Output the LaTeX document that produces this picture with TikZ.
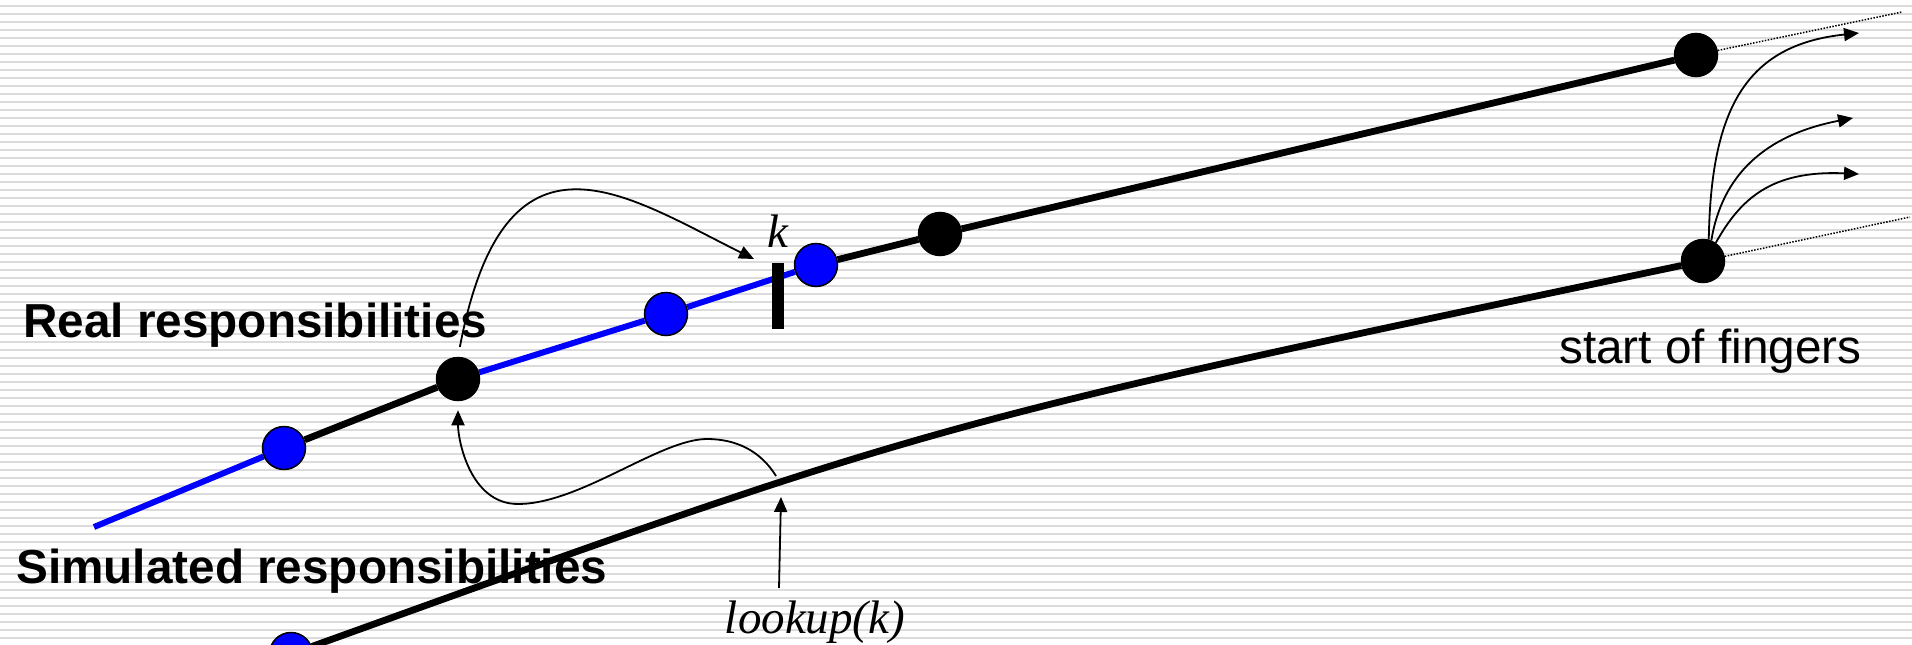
\documentclass[tikz,border=0pt]{standalone}
\usepackage{fontspec}
\setmainfont{Liberation Sans}
\newfontfamily\tmsfont{Liberation Serif}
\usetikzlibrary{arrows.meta,backgrounds}
\tikzset{
  rnd/.style={circle,draw=black,fill=black,minimum size=43pt,inner sep=0pt,line width=1.5pt},
  snd/.style={circle,draw=black,fill=blue,minimum size=43pt,inner sep=0pt,line width=1.5pt},
  seg/.style={draw=black,line width=6.8pt},
  segb/.style={draw=blue,line width=6pt},
  ptr/.style={-{Triangle[length=15pt,width=13pt]},line width=1.8pt,draw=black},
  fng/.style={draw=black,line width=1.5pt,dash pattern=on 1.5pt off 1.5pt},
  tickbar/.style={rectangle,fill=black,minimum width=12pt,minimum height=66pt,inner sep=0pt},
  stripe/.style={draw=black!14,line width=1.5pt},
  lbl/.style={font=\fontsize{47.7pt}{57pt}\selectfont,inner sep=0pt,anchor=base west},
  lblb/.style={lbl,font=\fontsize{47.7pt}{57pt}\selectfont\bfseries},
  lbli/.style={font=\fontsize{47pt}{56pt}\selectfont\tmsfont\itshape,inner sep=0pt,anchor=base},
}
\begin{document}
\begin{tikzpicture}[x=1pt,y=-1pt]
\useasboundingbox (0,0) rectangle (1912,645);
% real responsibilities: the upper chain
\coordinate (bstart) at (94,527);
\node[snd] (b1) at (284,448) {};
\node[rnd] (r1) at (458,379) {};
\node[snd] (b2) at (666,314) {};
\node[snd] (b3) at (816,265) {};
\node[rnd] (r2) at (940,234) {};
\node[rnd] (r3) at (1696,55) {};
\node[tickbar] (kbar) at (778,296) {};
% simulated responsibilities: the lower line
\node[snd] (s0) at (291,654) {};
\node[rnd] (s1) at (1703,261) {};
% labels
\node[lblb] (real) at (23,337) {Real responsibilities};
\node[lblb] (simu) at (16,583) {Simulated responsibilities};
\node[lbl] (fing) at (1559,363) {start of fingers};
\node[lbli] (klbl) at (778,247) {k};
\node[lbli] (lklbl) at (815,633) {lookup(k)};
% free ends
\coordinate (kend) at (754,259);
\coordinate (lkS) at (776,476);
\coordinate (lkB) at (779,588);
\coordinate (lkT) at (781,497);
\coordinate (d1) at (1902,12);
\coordinate (d2) at (1910,217);
\coordinate (f1) at (1859,33);
\coordinate (f2) at (1853,118);
\coordinate (f3) at (1859,174);
\begin{scope}[on background layer]
  \fill[white] (0,0) rectangle (1912,645);
  \foreach \y in {6,14,...,638}
    \draw[stripe] (0,\y) -- (1912,\y);
  \draw[segb] (bstart) -- (b1);
  \draw[seg] (b1) -- (r1);
  \draw[segb] (r1) -- (b2) -- (b3);
  \draw[seg] (b3) -- (r2) -- (r3);
  \draw[seg] (s0) .. controls (932,423) .. (s1);
\end{scope}
\draw[fng] (r3) -- (d1);
\draw[fng] (s1) -- (d2);
% the fingers
\draw[ptr] (s1.75) .. controls (1711,110) and (1745,45) .. (f1);
\draw[ptr] (s1.68) .. controls (1722,175) and (1765,135) .. (f2);
\draw[ptr] (s1.55) .. controls (1740,200) and (1770,170) .. (f3);
% the lookup
\draw[ptr,shorten <=10pt] (r1.north) .. controls (505,110) and (625,195) .. (kend);
\draw[ptr,shorten >=9pt] (lkS) .. controls (760,450) and (735,439) .. (707,439)
  .. controls (660,439) and (580,504) .. (518,504)
  .. controls (470,504) and (458,440) .. (r1.south);
\draw[ptr] (lkB) -- (lkT);
\end{tikzpicture}
\end{document}
